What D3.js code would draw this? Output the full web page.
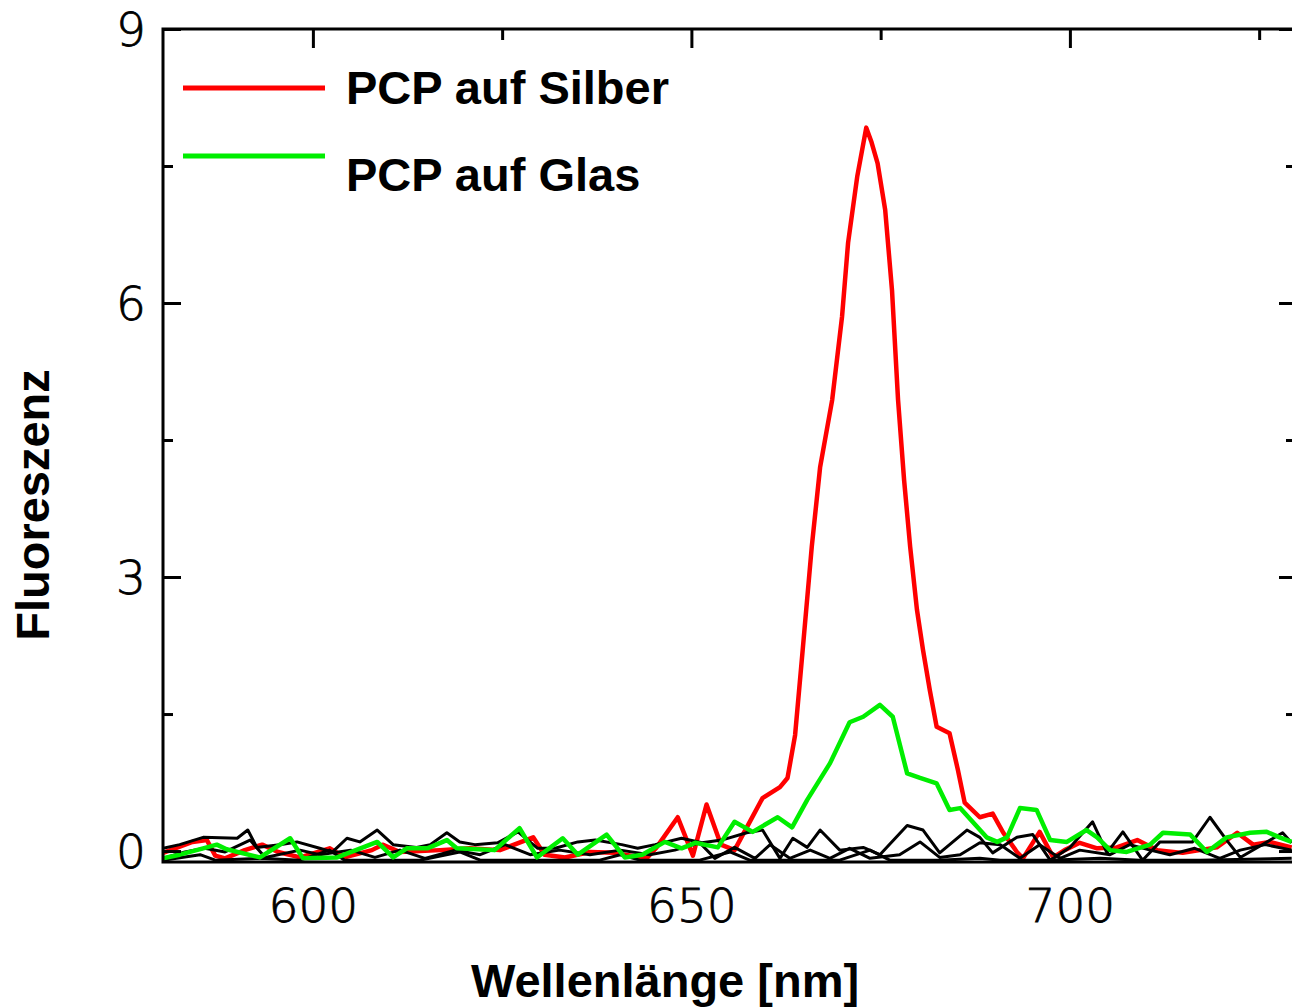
<!DOCTYPE html>
<html>
<head>
<meta charset="utf-8">
<script src="https://cdn.jsdelivr.net/npm/d3@7"></script>
<style>
  html, body { margin: 0; padding: 0; background: #fff; overflow: hidden; }
  svg { display: block; }
</style>
</head>
<body>
<svg id="chart" width="1292" height="1008"></svg>
<script>
// ---------------- data ----------------
const xTicksMajor = [600, 650, 700];
const xTicksMinor = [625, 675, 725];
const yTicksMajor = [0, 3, 6, 9];
const yTicksMinor = [1.5, 4.5, 7.5];

const seriesNames = ["PCP auf Silber", "PCP auf Glas"];

// PCP auf Silber (red)
const silberWl = [580.2,581.8,584.1,586.0,587.1,588.4,591.0,593.3,595.4,598.3,602.2,604.2,607.8,609.2,611.5,616.8,620.7,624.7,629.1,630.6,633.3,636.6,639.9,644.1,645.4,648.2,650.2,652.0,653.9,655.7,658.1,659.4,661.7,662.7,663.7,664.7,665.9,667.0,668.6,669.9,670.7,671.9,673.1,673.8,674.6,675.6,676.5,677.3,678.1,678.9,679.8,680.6,681.5,682.4,684.1,685.2,686.1,688.1,689.8,691.2,693.0,693.8,696.0,697.8,699.3,701.3,703.6,706.2,708.9,711.5,714.9,719.4,722.1,724.2,726.4,729.3];
const silberVal = [-0.02,0.03,0.10,0.12,-0.05,-0.08,0.01,0.07,-0.01,-0.07,0.03,-0.07,0.01,0.07,-0.01,0.01,0.03,0.01,0.15,-0.04,-0.07,-0.01,-0.02,-0.08,0.04,0.37,-0.05,0.51,0.07,0.01,0.38,0.58,0.70,0.80,1.27,2.20,3.33,4.20,4.94,5.85,6.66,7.38,7.92,7.76,7.53,7.02,6.14,4.94,4.06,3.33,2.64,2.20,1.76,1.36,1.29,0.89,0.53,0.37,0.41,0.20,-0.01,-0.08,0.21,-0.07,0.01,0.09,0.03,0.04,0.12,0.01,-0.02,0.04,0.20,0.07,0.10,0.04];

// PCP auf Glas (green)
const glasWl = [580.2,582.4,585.5,587.3,588.6,593.0,597.0,598.7,603.2,608.5,610.6,612.4,615.1,617.7,619.0,624.0,627.3,629.6,633.0,635.0,638.8,641.2,643.5,646.5,648.7,650.5,653.5,655.7,658.1,661.4,663.3,665.3,668.3,670.9,672.7,674.9,676.6,678.5,680.2,682.4,684.1,685.5,689.0,690.4,691.7,693.4,695.6,697.4,699.6,702.2,703.6,705.3,707.5,710.6,712.3,715.9,718.1,720.7,723.8,726.0,727.7,729.3];
const glasVal = [-0.08,-0.04,0.03,0.07,0.02,-0.07,0.14,-0.08,-0.07,0.10,-0.07,0.03,0.03,0.12,0.03,0.01,0.25,-0.07,0.14,-0.04,0.18,-0.07,-0.04,0.10,0.03,0.09,0.04,0.32,0.21,0.37,0.26,0.56,0.96,1.41,1.47,1.60,1.47,0.85,0.80,0.74,0.45,0.47,0.15,0.10,0.15,0.47,0.45,0.12,0.10,0.23,0.15,0.01,-0.01,0.07,0.20,0.18,-0.01,0.15,0.20,0.21,0.15,0.10];

// reference spectra (black)
const ref1Wl = [580.2,582.4,585.5,590.0,591.4,592.6,595.6,597.9,600.9,602.6,604.5,606.2,608.5,610.6,613.7,615.5,617.7,619.4,621.4,624.4,627.1,629.7,632.0,635.0,637.3,640.8,642.9,645.2,648.7,651.4,654.0,657.3,659.4,661.7,663.4,665.3,667.0,669.6,672.7,674.9,678.5,680.6,682.8,686.4,688.1,689.8,693.0,695.1,697.4,700.0,703.0,704.9,707.0,709.6,711.9,716.2,718.5,720.7,722.5,728.1,729.3];
const ref1Val = [0.03,0.07,0.15,0.14,0.23,0.04,0.07,0.10,0.03,-0.01,0.14,0.10,0.23,0.07,0.04,0.07,0.20,0.10,0.07,0.09,0.21,0.03,0.03,0.10,0.12,0.07,0.03,0.07,0.14,0.09,0.12,0.20,0.23,-0.08,0.14,0.04,0.23,0.01,0.04,-0.04,0.28,0.23,-0.02,0.23,0.15,-0.02,0.15,0.18,-0.10,0.04,0.32,-0.02,0.21,-0.10,0.10,0.10,0.37,0.12,-0.07,0.20,0.09];

const ref2Wl = [580.2,583.1,585.7,588.4,591.7,593.7,598.3,600.9,605.0,608.2,611.5,614.8,618.8,622.1,625.4,628.7,632.6,636.6,640.6,644.5,647.8,651.1,653.1,655.7,658.4,660.4,663.0,665.7,668.3,670.9,673.6,677.5,680.2,682.8,685.5,688.1,690.8,693.4,696.0,698.7,701.3,705.3,707.9,710.6,713.2,716.5,719.8,722.5,725.8,729.3];
const ref2Val = [-0.08,-0.01,0.03,-0.01,0.12,-0.07,0.01,-0.04,0.01,-0.07,0.01,-0.08,0.01,-0.04,0.07,-0.04,0.01,-0.04,0.01,-0.04,0.01,0.09,-0.08,0.04,-0.08,0.07,-0.08,0.01,-0.08,0.03,-0.08,-0.04,0.10,-0.07,-0.04,0.09,0.07,-0.08,0.07,-0.08,0.01,-0.04,0.07,0.01,-0.04,0.03,-0.08,0.01,0.07,0.01];

const ref3Wl = [580.2,585.1,587.1,593.0,598.3,602.2,604.2,614.1,619.4,622.1,630.0,637.9,640.6,643.2,651.1,655.1,657.7,664.3,669.6,673.6,676.2,682.8,688.1,690.8,697.4,704.0,709.2,717.2,729.3];
const ref3Val = [-0.10,-0.04,-0.10,-0.08,-0.10,0.01,-0.10,-0.10,-0.01,-0.10,-0.10,-0.10,-0.04,-0.10,-0.10,-0.01,-0.10,-0.10,-0.10,0.01,-0.10,-0.10,-0.08,-0.10,-0.10,-0.08,-0.10,-0.10,-0.08];

// ---------------- layout ----------------
const svg = d3.select("#chart");
const L = 163, T = 29, B = 862, R = 1297;

const x = d3.scaleLinear().domain([580.2, 730]).range([L, R]);
const y = d3.scaleLinear().domain([-0.12, 9]).range([B, T]);

const tickFont = "'DejaVu Sans', sans-serif";
const boldFont = "'Liberation Sans', Arial, sans-serif";

// clip
svg.append("defs").append("clipPath").attr("id", "plotclip")
  .append("rect").attr("x", L).attr("y", T).attr("width", R - L).attr("height", B - T);

const line = d3.line().x(d => x(d[0])).y(d => y(d[1]));
const zip = (a, b) => a.map((v, i) => [v, b[i]]);

const plot = svg.append("g").attr("clip-path", "url(#plotclip)");

plot.append("path").datum(zip(silberWl, silberVal)).attr("d", line)
  .attr("fill", "none").attr("stroke", "#ff0000").attr("stroke-width", 4.5).attr("stroke-linejoin", "round");

[[ref1Wl, ref1Val], [ref2Wl, ref2Val], [ref3Wl, ref3Val]].forEach(([w, v]) => {
  plot.append("path").datum(zip(w, v)).attr("d", line)
    .attr("fill", "none").attr("stroke", "#000").attr("stroke-width", 3).attr("stroke-linejoin", "round");
});

plot.append("path").datum(zip(glasWl, glasVal)).attr("d", line)
  .attr("fill", "none").attr("stroke", "#00ee00").attr("stroke-width", 4.5).attr("stroke-linejoin", "round");

// ---------------- axes ----------------
function styleAxis(g) {
  g.selectAll(".domain").remove();
  g.selectAll(".tick line").attr("stroke", "#000").attr("stroke-width", 3);
  g.selectAll("text").attr("fill", "#000").attr("font-family", tickFont)
    .attr("font-weight", 200).attr("font-size", 47)
    .attr("stroke", "#000").attr("stroke-width", 0.8);
}

// left axis
const gLeft = svg.append("g").attr("transform", `translate(${L},0)`)
  .call(d3.axisLeft(y).tickValues(yTicksMajor).tickSize(-18).tickPadding(17).tickFormat(d3.format("d")));
styleAxis(gLeft);
gLeft.selectAll("text").attr("dy", "0.36em");
const gLeftMin = svg.append("g").attr("transform", `translate(${L},0)`)
  .call(d3.axisLeft(y).tickValues(yTicksMinor).tickSize(-10).tickFormat(""));
styleAxis(gLeftMin);

// right axis
const gRight = svg.append("g").attr("transform", `translate(${R},0)`)
  .call(d3.axisRight(y).tickValues(yTicksMajor).tickSize(-18).tickFormat(""));
styleAxis(gRight);
const gRightMin = svg.append("g").attr("transform", `translate(${R},0)`)
  .call(d3.axisRight(y).tickValues(yTicksMinor).tickSize(-11).tickFormat(""));
styleAxis(gRightMin);

// top axis
const gTop = svg.append("g").attr("transform", `translate(0,${T})`)
  .call(d3.axisTop(x).tickValues(xTicksMajor).tickSize(-19).tickFormat(""));
styleAxis(gTop);
const gTopMin = svg.append("g").attr("transform", `translate(0,${T})`)
  .call(d3.axisTop(x).tickValues(xTicksMinor).tickSize(-11).tickFormat(""));
styleAxis(gTopMin);

// bottom axis (labels only)
const gBottom = svg.append("g").attr("transform", `translate(0,${B})`)
  .call(d3.axisBottom(x).tickValues(xTicksMajor).tickSize(0).tickPadding(0).tickFormat(d3.format("d")));
styleAxis(gBottom);
gBottom.selectAll("text").attr("y", 60).attr("dy", null);

// frame
svg.append("rect").attr("x", L).attr("y", T).attr("width", R - L).attr("height", B - T)
  .attr("fill", "none").attr("stroke", "#000").attr("stroke-width", 3);

// ---------------- titles ----------------
svg.append("text").attr("x", 665).attr("y", 997).attr("text-anchor", "middle")
  .attr("font-family", boldFont).attr("font-weight", "bold").attr("font-size", 47)
  .text("Wellenlänge [nm]");

svg.append("text").attr("transform", "translate(49,505) rotate(-90)").attr("text-anchor", "middle")
  .attr("font-family", boldFont).attr("font-weight", "bold").attr("font-size", 47)
  .text("Fluoreszenz");

// ---------------- legend ----------------
const legendColors = ["#ff0000", "#00ee00"];
const legendLineY = [88, 156];
const legendTextY = [104, 191];
seriesNames.forEach((name, i) => {
  svg.append("line").attr("x1", 183).attr("x2", 325).attr("y1", legendLineY[i]).attr("y2", legendLineY[i])
    .attr("stroke", legendColors[i]).attr("stroke-width", 5);
  svg.append("text").attr("x", 346).attr("y", legendTextY[i])
    .attr("font-family", boldFont).attr("font-weight", "bold").attr("font-size", 47)
    .text(name);
});
</script>
</body>
</html>
